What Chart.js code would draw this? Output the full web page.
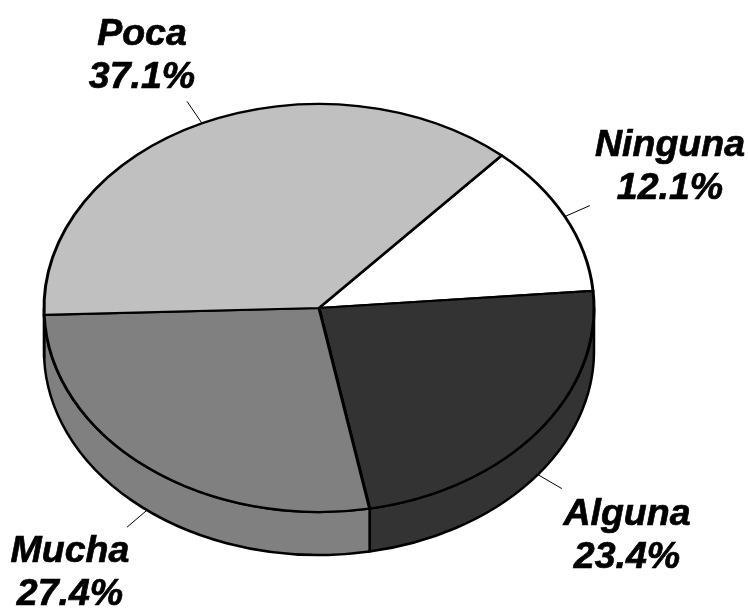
<!DOCTYPE html>
<html>
<head>
<meta charset="utf-8">
<title>Pie</title>
<script src="https://cdn.jsdelivr.net/npm/chart.js@4"></script>
<style>
  html, body { margin: 0; padding: 0; background: #fff; }
  canvas { display: block; }
</style>
</head>
<body>
<canvas id="pieChart" width="748" height="608"></canvas>
<script>
// data
var categories = ["Ninguna", "Alguna", "Mucha", "Poca"];
var values = [12.1, 23.4, 27.4, 37.1];
var sliceColors = ["#ffffff", "#333333", "#808080", "#c0c0c0"];

// label text anchors (center x, first baseline) and leader end offsets
var labelPos = [[670, 156], [627, 525], [70, 562], [142, 45]];
var leaderEnd = [[25, -11], [24, 14], [-20, 17], [-15, -22]];

var squash = 0.742; // ellipse height / width
var depth = 43;     // thickness of the pie side
var lineHeight = 43;

//tilt the pie and draw the side wall
var tiltPlugin = {
  id: "tilt",
  beforeDatasetsDraw: function (chart) {
    var ctx = chart.ctx;
    var arcs = chart.getDatasetMeta(0).data;
    ctx.save();
    arcs.forEach(function (arc) {
      var ry = arc.outerRadius * squash;
      var start = norm(arc.startAngle);
      var end = start + (arc.endAngle - arc.startAngle);
      // only the front half of the pie shows a wall
      [[start, end], [start - 2 * Math.PI, end - 2 * Math.PI]].forEach(function (r) {
        var a = Math.max(r[0], 0);
        var b = Math.min(r[1], Math.PI);
        if (b <= a) return;
        ctx.beginPath();
        ctx.ellipse(arc.x, arc.y, arc.outerRadius, ry, 0, a, b);
        ctx.ellipse(arc.x, arc.y + depth, arc.outerRadius, ry, 0, b, a, true);
        ctx.closePath();
        ctx.fillStyle = arc.options.backgroundColor;
        ctx.fill();
        ctx.lineWidth = 2.5;
        ctx.lineJoin = "round";
        ctx.strokeStyle = "#000";
        ctx.stroke();
      });
    });
    ctx.restore();

    var first = arcs[0];
    ctx.save();
    ctx.translate(first.x, first.y);
    ctx.scale(1, squash);
    ctx.translate(-first.x, -first.y);
  },
  afterDatasetsDraw: function (chart) {
    chart.ctx.restore();
  },
  afterDraw: function (chart) {
    var ctx = chart.ctx;
    var arcs = chart.getDatasetMeta(0).data;
    ctx.save();
    arcs.forEach(function (arc, i) {
      // leader from the rim at the slice's middle angle
      var mid = norm((arc.startAngle + arc.endAngle) / 2);
      var x = arc.x + arc.outerRadius * Math.cos(mid);
      var y = arc.y + arc.outerRadius * squash * Math.sin(mid);
      if (mid > 0 && mid < Math.PI) y += depth;
      ctx.beginPath();
      ctx.moveTo(x, y);
      ctx.lineTo(x + leaderEnd[i][0], y + leaderEnd[i][1]);
      ctx.lineWidth = 1;
      ctx.strokeStyle = "#000";
      ctx.stroke();

      ctx.font = "italic bold 37.5px 'Liberation Sans'";
      ctx.fillStyle = "#000";
      ctx.strokeStyle = "#000";
      ctx.lineWidth = 0.7;
      ctx.textAlign = "center";
      ctx.textBaseline = "alphabetic";
      [categories[i], values[i].toFixed(1) + "%"].forEach(function (t, n) {
        ctx.fillText(t, labelPos[i][0], labelPos[i][1] + n * lineHeight);
        ctx.strokeText(t, labelPos[i][0], labelPos[i][1] + n * lineHeight);
      });
    });
    ctx.restore();
  }
};

function norm(a) {
  var t = 2 * Math.PI;
  return ((a % t) + t) % t;
}

new Chart(document.getElementById("pieChart").getContext("2d"), {
  type: "pie",
  data: {
    labels: categories,
    datasets: [
      {
        data: values,
        backgroundColor: sliceColors,
        borderColor: "#000",
        borderWidth: 3,
        borderJoinStyle: "round",
        clip: false
      }
    ]
  },
  options: {
    responsive: false,
    animation: false,
    radius: 275,
    rotation: 41.6,
    layout: { padding: { left: 0, right: 110, top: 8, bottom: 0 } },
    plugins: {
      legend: { display: false },
      tooltip: { enabled: false }
    }
  },
  plugins: [tiltPlugin]
});
</script>
</body>
</html>
